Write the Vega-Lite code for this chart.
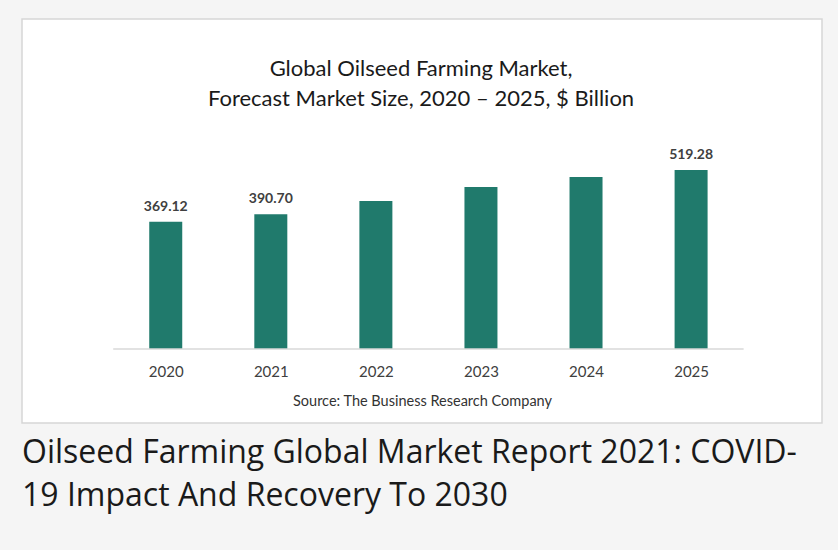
{
  "$schema": "https://vega.github.io/schema/vega-lite/v6.json",
  "width": 800,
  "height": 404,
  "autosize": {"type": "none"},
  "padding": {"left": 22, "top": 19, "right": 16, "bottom": 127},
  "background": "#f5f5f5",
  "view": {"fill": "white", "stroke": "#d6d6d6", "strokeWidth": 1.5},
  "title": {
    "text": ["Oilseed Farming Global Market Report 2021: COVID-", "19 Impact And Recovery To 2030"],
    "orient": "bottom",
    "anchor": "start",
    "frame": "group",
    "font": "Open Sans",
    "fontSize": 32,
    "fontWeight": "normal",
    "color": "#1a1a1a",
    "lineHeight": 43,
    "offset": 15
  },
  "data": {
    "values": [
      {"year": 2020, "value": 369.12},
      {"year": 2021, "value": 390.70},
      {"year": 2022, "value": 429.4},
      {"year": 2023, "value": 470.0},
      {"year": 2024, "value": 499.0},
      {"year": 2025, "value": 519.28}
    ]
  },
  "encoding": {
    "x": {
      "field": "year",
      "type": "quantitative",
      "scale": {"domain": [2018.6795, 2026.1983], "nice": false, "zero": false},
      "axis": {
        "values": [2020, 2021, 2022, 2023, 2024, 2025],
        "format": "d",
        "offset": -74,
        "domain": false,
        "ticks": false,
        "grid": false,
        "labelPadding": 15,
        "labelFont": "Lato",
        "labelFontSize": 15,
        "labelColor": "#404040",
        "title": "Source: The Business Research Company",
        "titleFont": "Lato",
        "titleFontSize": 14.5,
        "titleFontWeight": "normal",
        "titleColor": "#333333",
        "titlePadding": 15
      }
    },
    "y": {
      "field": "value",
      "type": "quantitative",
      "scale": {"domain": [-214.7, 957.4], "nice": false, "zero": false},
      "axis": null
    }
  },
  "layer": [
    {
      "mark": {"type": "bar", "width": 33, "color": "#207a6c"},
      "encoding": {"y2": {"datum": 0}}
    },
    {
      "data": {"values": [{"from": 2019.5, "to": 2025.5, "base": 0}]},
      "mark": {"type": "rule", "color": "#d9d9d9", "strokeWidth": 1.5},
      "encoding": {
        "x": {"field": "from", "type": "quantitative"},
        "x2": {"field": "to"},
        "y": {"field": "base", "type": "quantitative"}
      }
    },
    {
      "transform": [{"filter": "datum.year == 2020 || datum.year == 2021 || datum.year == 2025"}],
      "mark": {
        "type": "text",
        "baseline": "bottom",
        "dy": -8,
        "font": "Lato",
        "fontSize": 14,
        "fontWeight": "bold",
        "color": "#404040"
      },
      "encoding": {
        "text": {"field": "value", "type": "quantitative", "format": ".2f"}
      }
    },
    {
      "transform": [{"filter": "datum.year == 2020"}],
      "mark": {
        "type": "text",
        "align": "center",
        "baseline": "middle",
        "font": "Lato",
        "fontSize": 22,
        "fontWeight": "normal",
        "lineHeight": 30,
        "color": "#1a1a1a"
      },
      "encoding": {
        "x": {"datum": 2022.43},
        "y": {"datum": 812},
        "text": {"value": ["Global Oilseed Farming Market,", "Forecast Market Size, 2020 – 2025, $ Billion"]}
      }
    }
  ]
}
